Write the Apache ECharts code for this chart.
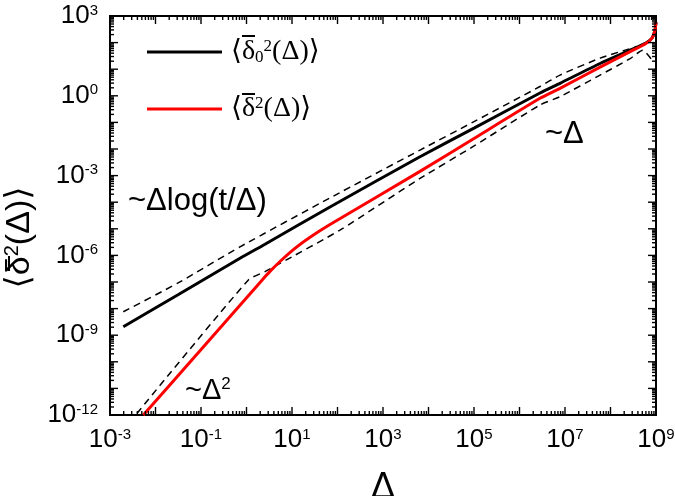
<!DOCTYPE html>
<html><head><meta charset="utf-8">
<script src="https://cdn.jsdelivr.net/npm/echarts@6/dist/echarts.min.js"></script>
<style>html,body{margin:0;padding:0;background:#fff}#c{width:675px;height:496px}</style>
</head><body><div id="c"></div>
<script>
// ---- data (Δ, MSD) ----
const blackX = [1.96e-3, 3.13e-2, 0.72, 2.55, 68.4, 6.5e3, 1e5, 2.82e6, 7.76e6, 5.9e7, 2.7e8, 6.0e8, 8.2e8, 9.5e8, 1e9];
const blackY = [2.09e-9, 3.3e-8, 7.8e-7, 2.64e-6, 6.6e-5, 5.1e-3, 6.1e-2, 1.27, 2.95, 16.4, 52, 97, 149, 296, 590];

const redX = [5.4e-3, 0.095, 2.19, 3.28, 5.45, 11.6, 24.9, 68.4, 6.5e3, 1e5, 2.82e6, 7.76e6, 5.9e7, 2.7e8, 6.0e8, 8.2e8, 9.5e8, 1e9];
const redY = [1e-12, 2.6e-10, 1.17e-7, 2.5e-7, 5.9e-7, 1.83e-6, 4.8e-6, 1.45e-5, 1.44e-3, 2.5e-2, 0.805, 1.91, 12, 46, 93, 149, 296, 590];

const upperX = [1.96e-3, 3.13e-2, 0.72, 68.4, 6.5e3, 1e5, 2.82e6, 7.76e6, 5.9e7, 2.1e8, 3.8e8];
const upperY = [7.6e-9, 9.2e-8, 2.1e-6, 1.45e-4, 9.1e-3, 0.107, 2.24, 6.0, 26, 52, 71];

const lowerX = [3.9e-3, 1.1, 2.55, 5.45, 113, 6.5e3, 1e5, 2.82e6, 7.76e6, 5.9e7, 2.7e8, 5.1e8, 8.2e8];
const lowerY = [1.14e-12, 1.2e-7, 2.45e-7, 5.0e-7, 8.9e-6, 7.8e-4, 1.3e-2, 0.45, 0.93, 6.0, 25, 52, 22];

// ---- axis ranges and labelled exponents ----
const xMin = 1e-3, xMax = 1e9, yMin = 1e-12, yMax = 1e3;
const xLabelExps = [-3, -1, 1, 3, 5, 7, 9];
const yLabelExps = [-12, -9, -6, -3, 0, 3];
const minorMult = [2, 3, 4, 5, 6, 7, 8, 9];

// tick values: decades (major) and 2..9 x decade (minor)
const xTicks = [], yTicks = [];
for (let e = -3; e <= 9; e++) {
  xTicks.push([Math.pow(10, e), 8]);
  if (e < 9) minorMult.forEach(m => xTicks.push([m * Math.pow(10, e), 4]));
}
for (let e = -12; e <= 3; e++) {
  yTicks.push([Math.pow(10, e), 8]);
  if (e < 3) minorMult.forEach(m => yTicks.push([m * Math.pow(10, e), 4]));
}

const zip = (a, b) => a.map((v, i) => [v, b[i]]);
const FONT = 'Liberation Sans, Arial, DejaVu Sans, sans-serif';
const SERIF = 'Liberation Serif, DejaVu Serif, serif';

function expLabel(list) {
  return v => {
    const e = Math.round(Math.log10(v));
    return list.indexOf(e) >= 0 ? '10{s|' + e + '}' : '';
  };
}
const labelStyle = {
  fontSize: 26, fontFamily: FONT, color: '#000',
  rich: { s: { fontSize: 15, fontFamily: FONT, color: '#000', verticalAlign: 'top' } }
};

const chart = echarts.init(document.getElementById('c'));
chart.setOption({
  animation: false,
  grid: { left: 110, right: 19, top: 16, bottom: 81, containLabel: false, outerBoundsMode: 'none',
          show: true, borderColor: '#000', borderWidth: 2, backgroundColor: 'transparent' },
  xAxis: {
    type: 'log', logBase: 10, interval: 1, min: xMin, max: xMax,
    axisLine: { show: true, onZero: false, lineStyle: { color: '#000', width: 2 } },
    axisTick: { show: false }, splitLine: { show: false },
    axisLabel: Object.assign({ margin: 12, formatter: expLabel(xLabelExps) }, labelStyle),
    name: 'Δ', nameLocation: 'middle', nameGap: 55,
    nameTextStyle: { fontSize: 36, fontFamily: FONT, color: '#000' }
  },
  yAxis: {
    type: 'log', logBase: 10, interval: 1, min: yMin, max: yMax,
    axisLine: { show: true, onZero: false, lineStyle: { color: '#000', width: 2 } },
    axisTick: { show: false }, splitLine: { show: false },
    axisLabel: Object.assign({ margin: 12, formatter: expLabel(yLabelExps) }, labelStyle),
    name: '⟨δ{s|2}(Δ)⟩', nameLocation: 'middle', nameRotate: 90, nameGap: 72,
    nameTextStyle: {
      fontSize: 34, fontFamily: FONT, color: '#000', padding: [0, 44, 0, 0],
      rich: { s: { fontSize: 20, fontFamily: FONT, color: '#000', verticalAlign: 'top' } }
    }
  },
  legend: {
    orient: 'vertical', left: 142, top: 33, itemWidth: 75, itemHeight: 3, itemGap: 29,
    icon: 'rect',
    data: ['black', 'red'],
    formatter: n => n === 'black' ? '⟨δ{sub|0}{sup|2}(Δ)⟩' : '⟨δ{sup|2}(Δ)⟩',
    textStyle: {
      fontSize: 28, fontFamily: SERIF, color: '#000', padding: [0, 0, 0, 4],
      rich: {
        sub: { fontSize: 17, fontFamily: SERIF, color: '#000', verticalAlign: 'bottom' },
        sup: { fontSize: 17, fontFamily: SERIF, color: '#000', verticalAlign: 'top' }
      }
    }
  },
  series: [
    { name: 'upper', type: 'line', data: zip(upperX, upperY), showSymbol: false, symbol: 'none', smooth: 0.2,
      lineStyle: { color: '#000', width: 1.5, type: [7, 5] }, z: 3 },
    { name: 'lower', type: 'line', data: zip(lowerX, lowerY), showSymbol: false, symbol: 'none', smooth: 0.2,
      lineStyle: { color: '#000', width: 1.5, type: [7, 5] }, z: 3 },
    { name: 'black', type: 'line', color: '#000', data: zip(blackX, blackY), showSymbol: false, symbol: 'none', smooth: 0.2,
      lineStyle: { color: '#000', width: 3 }, z: 4 },
    { name: 'red', type: 'line', color: '#ff0000', data: zip(redX, redY), showSymbol: false, symbol: 'none', smooth: 0.2,
      lineStyle: { color: '#ff0000', width: 3 }, z: 5 }
  ]
});

// tick marks placed through the axes' own scales (convertToPixel), drawn as thin rects
const TW = 1.4;
const tickEls = [];
xTicks.forEach(([v, len]) => {
  const b = chart.convertToPixel({ gridIndex: 0 }, [v, yMin]);
  const t = chart.convertToPixel({ gridIndex: 0 }, [v, yMax]);
  tickEls.push({ type: 'rect', silent: true, z: 10, shape: { x: b[0] - TW / 2, y: b[1] - len, width: TW, height: len }, style: { fill: '#000' } });
  tickEls.push({ type: 'rect', silent: true, z: 10, shape: { x: t[0] - TW / 2, y: t[1], width: TW, height: len }, style: { fill: '#000' } });
});
yTicks.forEach(([v, len]) => {
  const l = chart.convertToPixel({ gridIndex: 0 }, [xMin, v]);
  const r = chart.convertToPixel({ gridIndex: 0 }, [xMax, v]);
  tickEls.push({ type: 'rect', silent: true, z: 10, shape: { x: l[0], y: l[1] - TW / 2, width: len, height: TW }, style: { fill: '#000' } });
  tickEls.push({ type: 'rect', silent: true, z: 10, shape: { x: r[0] - len, y: r[1] - TW / 2, width: len, height: TW }, style: { fill: '#000' } });
});

chart.setOption({
  graphic: [
    { type: 'text', left: 128, top: 186, style: { text: '~Δlog(t/Δ)', fontSize: 31, fontFamily: FONT, fill: '#000' } },
    { type: 'text', left: 545, top: 119, style: { text: '~Δ', fontSize: 31, fontFamily: FONT, fill: '#000' } },
    { type: 'text', left: 185, top: 376, style: { text: '~Δ{s|2}', fontSize: 29, fontFamily: FONT, fill: '#000',
      rich: { s: { fontSize: 17, fontFamily: FONT, fill: '#000', verticalAlign: 'top' } } } },
    // overbars on δ (legend entries and axis title)
    { type: 'rect', left: 242, top: 35, shape: { width: 13, height: 2 }, style: { fill: '#000' } },
    { type: 'rect', left: 242, top: 93, shape: { width: 13, height: 2 }, style: { fill: '#000' } },
    { type: 'rect', left: 8, top: 256, shape: { width: 2, height: 15 }, style: { fill: '#000' } }
  ].concat(tickEls)
});
</script></body></html>
